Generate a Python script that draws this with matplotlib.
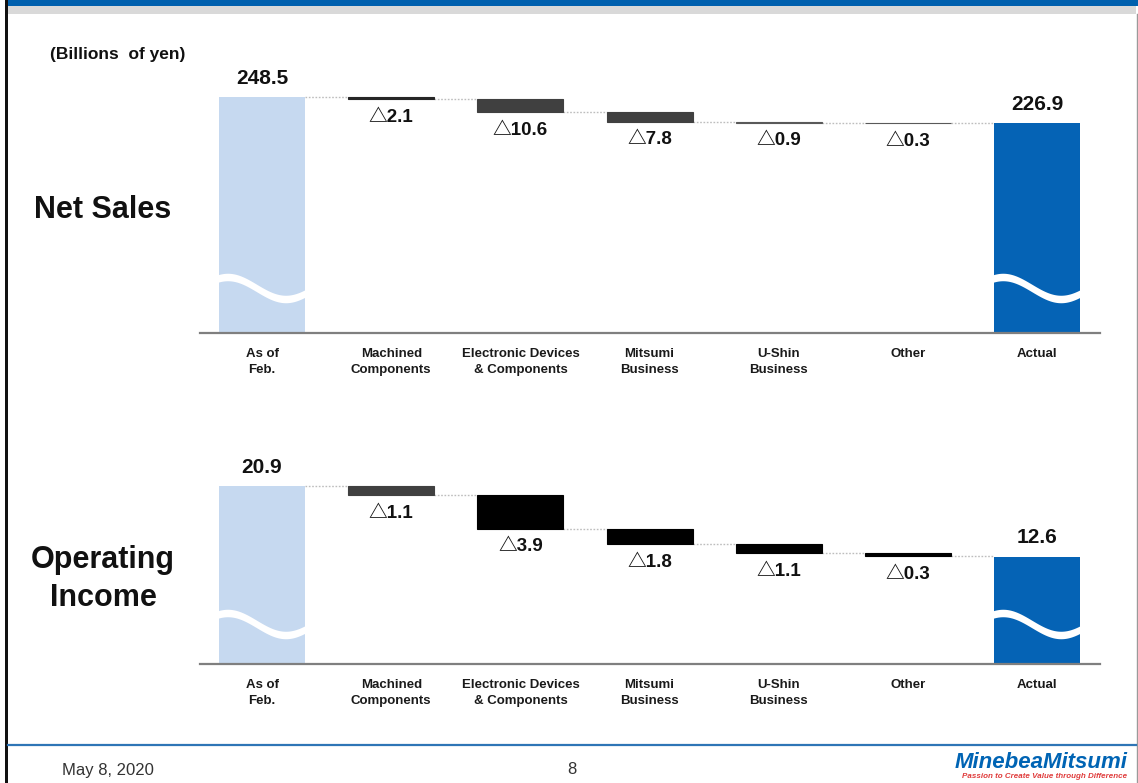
import numpy as np
import matplotlib
matplotlib.use("Agg")
import matplotlib.pyplot as plt
from matplotlib.patches import Rectangle
from matplotlib.lines import Line2D
from matplotlib.transforms import blended_transform_factory

plt.rcParams['font.family'] = ['Liberation Sans', 'DejaVu Sans']

# ---------------- data ----------------
categories = ["As of\nFeb.", "Machined\nComponents", "Electronic Devices\n& Components",
              "Mitsumi\nBusiness", "U-Shin\nBusiness", "Other", "Actual"]

sales_start = 248.5
sales_deltas = [-2.1, -10.6, -7.8, -0.9, -0.3]
sales_actual = 226.9

income_start = 20.9
income_deltas = [-1.1, -3.9, -1.8, -1.1, -0.3]
income_actual = 12.6

sales_delta_colors = ['#262626', '#404040', '#404040', '#595959', '#595959']
income_delta_colors = ['#404040', '#000000', '#000000', '#000000', '#000000']

# ---------------- figure ----------------
W, H = 1138, 783
fig = plt.figure(figsize=(W / 100, H / 100), dpi=100)


def px_axes(left, top, right, bottom):
    return fig.add_axes([left / W, 1 - bottom / H, (right - left) / W, (bottom - top) / H])


def px(x, y):
    return x / W, 1 - y / H


LIGHT = '#c6d9f0'
DARK = '#0563b5'
BAR_W = 0.665
DELTA_FONT = ['Liberation Sans', 'Noto Sans CJK JP', 'DejaVu Sans']


def waterfall(ax, start, deltas, actual, dcolors, ylim, wave_px, h_px, fs_val):
    ax.set_xlim(-0.48, 6.486)
    ax.set_ylim(*ylim)
    base = ylim[0]
    n = len(categories)
    ax.bar(0, start - base, bottom=base, width=BAR_W, color=LIGHT, zorder=2, linewidth=0)
    ax.bar(n - 1, actual - base, bottom=base, width=BAR_W, color=DARK, zorder=2, linewidth=0)
    level = start
    levels = [start]
    for i, (d, c) in enumerate(zip(deltas, dcolors), start=1):
        ax.bar(i, d, bottom=level, width=BAR_W, color=c, edgecolor=c, linewidth=0.8, zorder=2)
        level = level + d
        levels.append(level)
        ax.annotate("\u25b3" + f"{abs(d):.1f}", (i, level), xytext=(0, -7),
                    textcoords='offset points', ha='center', va='top',
                    fontsize=13.5, fontweight='bold', color='#111111', family=DELTA_FONT)
    for i, lv in enumerate(levels):
        ax.plot([i + BAR_W / 2, i + 1 - BAR_W / 2], [lv, lv], color='#bdbdbd',
                lw=1.0, ls=(0, (1.2, 1.2)), zorder=1)
    for i, v in [(0, start), (n - 1, actual)]:
        ax.annotate(f"{v:.1f}", (i, v), xytext=(0, 9.5), textcoords='offset points',
                    ha='center', va='baseline', fontsize=fs_val, fontweight='bold',
                    color='#111111')
    tr = blended_transform_factory(ax.transData, ax.transAxes)
    amp, thick = 11.0, 7.5
    for i in (0, n - 1):
        u = np.linspace(-0.03, 1.03, 120)
        x = i - BAR_W / 2 + u * BAR_W
        yc = wave_px + amp * np.cos(2 * np.pi * (u - 0.1) / 1.35)
        ax.fill_between(x, (yc - thick / 2) / h_px, (yc + thick / 2) / h_px,
                        transform=tr, color='white', lw=0, zorder=3)
    for s in ('top', 'right', 'left'):
        ax.spines[s].set_visible(False)
    ax.spines['bottom'].set_color('#7f7f7f')
    ax.spines['bottom'].set_linewidth(1.6)
    ax.set_yticks([])
    ax.set_xticks(range(n))
    ax.set_xticklabels(categories, fontsize=9.5, fontweight='bold', color='#1a1a1a',
                       linespacing=1.45)
    ax.tick_params(axis='x', length=0, pad=10.5)
    ax.patch.set_alpha(0)


ax1 = px_axes(200, 60, 1100, 333)
waterfall(ax1, sales_start, sales_deltas, sales_actual, sales_delta_colors,
          (52.4, 279.2), 45, 273, 15)

ax2 = px_axes(200, 440, 1100, 664)
waterfall(ax2, income_start, income_deltas, income_actual, income_delta_colors,
          (0.0, 26.3), 40, 224, 15)

# ---------------- titles ----------------
fig.text(*px(103, 210), "Net Sales", ha='center', va='center', fontsize=22,
         fontweight='bold', color='#111111')
fig.text(*px(103, 579), "Operating\nIncome", ha='center', va='center', fontsize=22,
         fontweight='bold', color='#111111', linespacing=1.32)
fig.text(*px(50, 55), "(Billions  of yen)", ha='left', va='center', fontsize=12.5,
         fontweight='bold', color='#111111')

# ---------------- slide decoration ----------------
def rect(x0, y0, x1, y1, color):
    fig.add_artist(Rectangle((x0 / W, 1 - y1 / H), (x1 - x0) / W, (y1 - y0) / H,
                             transform=fig.transFigure, color=color, lw=0, zorder=0))

rect(7, 0, W, 6, '#0060ae')
rect(7, 6, 1136, 14, '#d9d9d9')
rect(5, 0, 8, H, '#111111')
fig.add_artist(Line2D([1136.5 / W, 1136.5 / W], [1 - 14 / H, 0], transform=fig.transFigure,
                      color='#9a9a9a', lw=1))
fig.add_artist(Line2D([8 / W, 1136 / W], [1 - 745 / H, 1 - 745 / H], transform=fig.transFigure,
                      color='#2e75b6', lw=1.6))

fig.text(*px(62, 770), "May 8, 2020", ha='left', va='center', fontsize=12, color='#333333')
fig.text(*px(572, 770), "8", ha='center', va='center', fontsize=12, color='#333333')
fig.text(*px(1127, 762), "MinebeaMitsumi", ha='right', va='center', fontsize=16,
         fontweight='bold', fontstyle='italic', color='#0064b4')
fig.text(*px(1127, 777), "Passion to Create Value through Difference", ha='right',
         va='center', fontsize=5.8, fontweight='bold', fontstyle='italic', color='#e03c3c')

fig.savefig("out.png", dpi=100)
